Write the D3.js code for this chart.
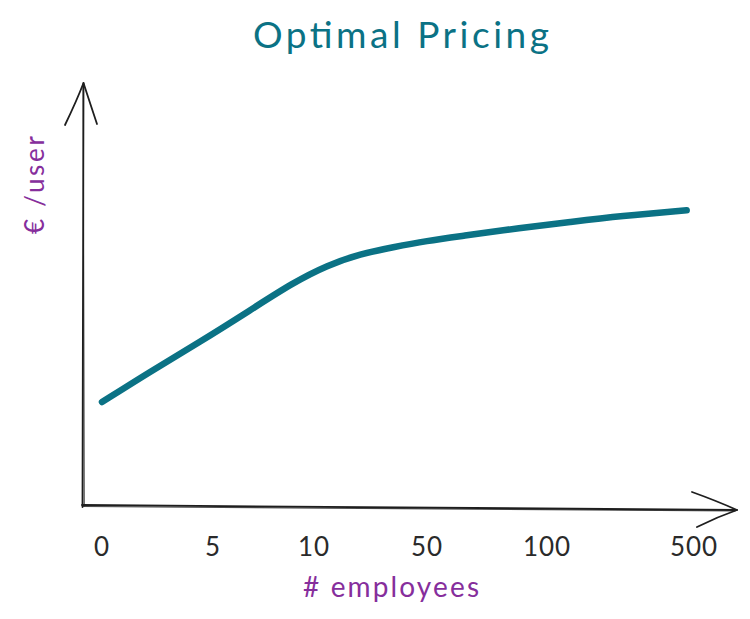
<!DOCTYPE html>
<html>
<head>
<meta charset="utf-8">
<script src="https://cdn.jsdelivr.net/npm/d3@7"></script>
<style>
  html, body { margin: 0; padding: 0; background: #ffffff; }
  svg { display: block; }
  text { font-family: Lato, "Open Sans", sans-serif; }
</style>
</head>
<body>
<svg id="chart" width="750" height="619"></svg>
<script>
// ---- data ----
const title = "Optimal Pricing";
const xLabel = "# employees";
const yLabel = "€ /user";
const categories = ["0", "5", "10", "50", "100", "500"];
// curve: position along the category axis (index units) and value (0-100)
const curvePos = [0, 0.43, 0.88, 1.37, 1.79, 2.12, 2.41, 2.70, 3.00, 3.28, 3.78, 4.16, 4.50, 4.95];
const curveVal = [24.5, 31.7, 38.8, 46.4, 52.9, 57.1, 59.8, 61.4, 62.9, 64.0, 66.0, 67.4, 68.8, 70.2];

// ---- layout ----
const svg = d3.select("#chart");
const teal = "#0b7285";
const purple = "#862e9c";
const ink = "#1e1e1e";

// hand-placed category axis (uneven spacing as in the sketch)
const x = d3.scaleLinear()
  .domain(d3.range(categories.length))
  .range([102, 213, 314, 427, 547, 694]);
const y = d3.scaleLinear().domain([0, 100]).range([505, 85]);

const originX = 83;

// ---- axes (sketchy double strokes) ----
const axisG = svg.append("g").attr("fill", "none").attr("stroke", ink)
  .attr("stroke-linecap", "round").attr("stroke-linejoin", "round");

// y axis
axisG.append("path").attr("stroke-width", 1.8)
  .attr("d", `M${originX - 0.5},${y(0) + 2} L${originX + 0.5},${y(100) - 2}`);
axisG.append("path").attr("stroke-width", 1.2).attr("opacity", 0.8)
  .attr("d", `M${originX + 1.2},${y(0) + 1} L${originX + 0.2},${y(100) - 1}`);
// y arrow head
axisG.append("path").attr("stroke-width", 1.8)
  .attr("d", `M${originX - 18},${y(100) + 40} Q${originX - 6},${y(100) + 15} ${originX + 0.5},${y(100) - 2} Q${originX + 6},${y(100) + 15} ${originX + 14},${y(100) + 39}`);

// x axis
const xEnd = 737;
axisG.append("path").attr("stroke-width", 1.8)
  .attr("d", `M${originX - 1},${y(0)} Q${(originX + xEnd) / 2},${y(0) + 2} ${xEnd},${y(0) + 5}`);
axisG.append("path").attr("stroke-width", 1.2).attr("opacity", 0.8)
  .attr("d", `M${originX},${y(0) + 1.5} Q${(originX + xEnd) / 2},${y(0) + 4} ${xEnd - 2},${y(0) + 6}`);
// x arrow head
axisG.append("path").attr("stroke-width", 1.8)
  .attr("d", `M${xEnd - 45},${y(0) - 13} Q${xEnd - 20},${y(0) - 4} ${xEnd},${y(0) + 5} Q${xEnd - 20},${y(0) + 12} ${xEnd - 40},${y(0) + 22}`);

// ---- tick labels ----
svg.append("g").selectAll("text").data(categories).join("text")
  .attr("x", (d, i) => x(i))
  .attr("y", 556)
  .attr("text-anchor", "middle")
  .attr("font-size", 26)
  .attr("letter-spacing", 1)
  .attr("fill", "#2a2a2a")
  .text(d => d);

// ---- axis titles ----
svg.append("text")
  .attr("x", 391).attr("y", 597)
  .attr("text-anchor", "middle")
  .attr("font-size", 28)
  .attr("fill", purple)
  .attr("textLength", 176)
  .attr("lengthAdjust", "spacing")
  .text(xLabel);

svg.append("text")
  .attr("transform", "translate(44,185) rotate(-90)")
  .attr("text-anchor", "middle")
  .attr("font-size", 26)
  .attr("fill", purple)
  .attr("textLength", 98)
  .attr("lengthAdjust", "spacing")
  .text(yLabel);

// ---- title ----
svg.append("text")
  .attr("x", 401).attr("y", 48)
  .attr("text-anchor", "middle")
  .attr("font-size", 37)
  .attr("fill", teal)
  .attr("textLength", 296)
  .attr("lengthAdjust", "spacing")
  .text(title);

// ---- curve ----
const pts = curvePos.map((p, i) => [p, curveVal[i]]);
const line = d3.line()
  .x(d => x(d[0]))
  .y(d => y(d[1]))
  .curve(d3.curveBasis);

svg.append("path")
  .datum(pts)
  .attr("fill", "none")
  .attr("stroke", teal)
  .attr("stroke-width", 6.5)
  .attr("stroke-linecap", "round")
  .attr("stroke-linejoin", "round")
  .attr("d", line);
</script>
</body>
</html>
